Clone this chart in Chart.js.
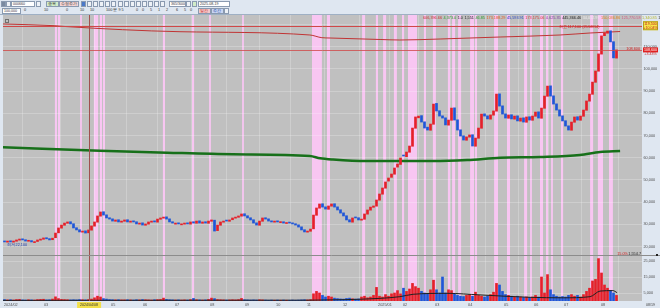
<!DOCTYPE html>
<html>
<head>
<meta charset="utf-8">
<script src="https://cdn.jsdelivr.net/npm/chart.js@4.4.1/dist/chart.umd.min.js"></script>
<style>
html, body { margin: 0; padding: 0; width: 660px; height: 308px; overflow: hidden; background: #dfe7f1; font-family: "Liberation Sans", Arial, sans-serif; }
#bar { position: absolute; left: 0; top: 0; width: 660px; height: 15px; background: #dfe7f1; border-bottom: 1px solid #9fb0c4; box-sizing: border-box; }
.b { position: absolute; height: 4px; background: #fff; border: 1px solid #8a9ab0; font-size: 3.6px; line-height: 4px; color: #333; white-space: nowrap; overflow: hidden; padding: 0 1px; }
.t { position: absolute; font-size: 3.8px; line-height: 5px; color: #333; white-space: nowrap; }
.i { position: absolute; width: 3px; height: 4px; border: 1px solid #8a9ab0; background: #eef2f7; }
#wrap { position: absolute; left: 0; top: 15px; width: 660px; height: 293px; }
</style>
</head>
<body>
<div id="bar">
    <div class="i" style="left:1px;top:1px;background:#7a8aa0"></div>
    <div class="i" style="left:6px;top:1px"></div>
    <div class="b" style="left:11px;top:1px;width:20px">000660</div>
    <div class="i" style="left:36px;top:1px"></div>
    <div class="b" style="left:46px;top:1px;width:9px;background:#d2ecc8">종목</div>
    <div class="b" style="left:59px;top:1px;width:16px;background:#f4d4d4">수정주가</div>
    <div class="i" style="left:81px;top:1px;background:#4a78c8"></div>
    <div class="i" style="left:87px;top:1px"></div>
    <div class="i" style="left:93px;top:1px"></div>
    <div class="i" style="left:99px;top:1px"></div>
    <div class="i" style="left:105px;top:1px"></div>
    <div class="i" style="left:111px;top:1px"></div>
    <div class="i" style="left:118px;top:1px"></div>
    <div class="i" style="left:124px;top:1px"></div>
    <div class="i" style="left:130px;top:1px"></div>
    <div class="i" style="left:136px;top:1px"></div>
    <div class="i" style="left:142px;top:1px"></div>
    <div class="i" style="left:148px;top:1px"></div>
    <div class="i" style="left:154px;top:1px"></div>
    <div class="i" style="left:160px;top:1px"></div>
    <div class="b" style="left:169px;top:1px;width:13px">365/3000</div>
    <div class="i" style="left:186px;top:1px"></div>
    <div class="i" style="left:192px;top:1px;background:#d2ecc8"></div>
    <div class="b" style="left:198px;top:1px;width:28px">2025-08-19</div>
    <div class="b" style="left:2px;top:8px;width:15px">100,000</div>
    <div class="t" style="left:24px;top:8px">0</div>
    <div class="t" style="left:44px;top:8px">10</div>
    <div class="t" style="left:66px;top:8px">0</div>
    <div class="t" style="left:80px;top:8px">10</div>
    <div class="t" style="left:90px;top:8px">10</div>
    <div class="t" style="left:106px;top:8px">100 분 9 5</div>
    <div class="t" style="left:136px;top:8px">0</div>
    <div class="t" style="left:142px;top:8px">0</div>
    <div class="t" style="left:150px;top:8px">5</div>
    <div class="t" style="left:158px;top:8px">1</div>
    <div class="t" style="left:166px;top:8px">2</div>
    <div class="t" style="left:176px;top:8px">6</div>
    <div class="t" style="left:184px;top:8px">5</div>
    <div class="t" style="left:190px;top:8px">0</div>
    <div class="b" style="left:198px;top:8px;width:9px;background:#f4c8c8;color:#c02020">일간</div>
    <div class="b" style="left:211px;top:8px;width:9px;background:#c8d6f2;color:#2040a0">주간</div>
    <div class="i" style="left:224px;top:8px"></div>
</div>
<div id="wrap"><canvas id="grafico"></canvas></div>
<script>
// candles: one bar = two trading days, index 0 = early Feb 2024
var opens = [
    22500, 22000, 22600, 22000, 22400, 22900, 23500, 23100, 22400, 22700,
    21800, 22300, 22900, 23300, 24000, 23600, 23100, 24000, 26200, 28300,
    29600, 30500, 31200, 30300, 28500, 27600, 26500, 27100, 26200, 27400,
    29200, 31000, 33700, 35700, 34300, 33000, 32500, 31400, 32100, 31000,
    31400, 32100, 31000, 31600, 31200, 30100, 30700, 29600, 30100, 31000,
    31600, 31000, 32300, 32800, 33400, 32500, 31200, 30100, 30700, 29800,
    30100, 30700, 30100, 31200, 30500, 31600, 30500, 31200, 30500, 31400,
    31900, 27200, 29600, 31000, 31900, 31400, 32100, 32800, 33200, 33700,
    34800, 33900, 33000, 32100, 30700, 29600, 31400, 33000, 32500, 31600,
    31000, 31600, 30800, 31200, 30400, 30800, 30700, 30300, 29800, 28900,
    27600, 26500, 26900, 28000, 34100, 37300, 39300, 37900, 36800, 38200,
    39300, 37900, 36600, 35200, 33900, 32100, 31000, 33300, 33000, 31900,
    32300, 34600, 36400, 37700, 38200, 40900, 43600, 46300, 49500, 51200,
    52600, 55800, 57000, 61200, 60500, 62500, 65200, 73300, 78000, 79000,
    76200, 73800, 72400, 75100, 84500, 81200, 78900, 78000, 74700, 76900,
    82500, 77100, 72600, 69900, 67900, 69300, 70400, 65200, 68800, 73300,
    79800, 78900, 77400, 79200, 81000, 88800, 83400, 79800, 77800, 79400,
    77400, 78900, 76500, 78000, 76000, 78500, 76900, 78700, 80700, 77800,
    82300, 87700, 92400, 87900, 84300, 81600, 78900, 76700, 74400, 72400,
    76000, 78500, 76900, 78700, 81400, 85500, 88600, 94000, 99000, 106700,
    115000, 116100, 117200, 112300, 104900
];
var closes = [
    22100, 22500, 22100, 22500, 23000, 23400, 23000, 22500, 22600, 22100,
    22200, 23000, 23400, 23900, 23500, 23000, 23800, 26100, 28400, 29700,
    30600, 31100, 30200, 28400, 27500, 26600, 27000, 26100, 27500, 29300,
    31100, 33800, 35600, 34200, 32900, 32400, 31500, 32000, 31100, 31500,
    32000, 31100, 31500, 31100, 30200, 30600, 29700, 30200, 31100, 31500,
    31100, 32400, 32900, 33300, 32400, 31100, 30600, 30600, 30200, 30200,
    30600, 30200, 31100, 30600, 31500, 30600, 31100, 30600, 31500, 32000,
    27000, 29700, 31100, 31500, 31500, 32000, 32900, 33300, 33800, 34700,
    33800, 32900, 32000, 30600, 29700, 31500, 32900, 32400, 31500, 31100,
    31500, 31100, 31100, 30600, 30600, 30600, 30200, 29700, 28800, 27500,
    26600, 27000, 27900, 34200, 37400, 39200, 37800, 36900, 38300, 39200,
    37800, 36500, 35100, 33800, 32000, 31100, 32900, 32900, 32000, 32400,
    34700, 36500, 37800, 38300, 41000, 43700, 46400, 49100, 50900, 52700,
    55400, 57200, 59900, 60800, 62600, 65300, 73400, 78400, 78800, 76100,
    73400, 72500, 75200, 84200, 81100, 78800, 77900, 74800, 77000, 82400,
    77000, 72500, 69800, 68000, 69400, 70300, 65300, 68900, 73400, 79700,
    78800, 77500, 79300, 81100, 88700, 83300, 79700, 77900, 79300, 77500,
    78800, 76600, 77900, 76100, 78400, 77000, 78800, 80600, 77900, 82400,
    87800, 92300, 87800, 84200, 81500, 78800, 76600, 74300, 72500, 76100,
    78400, 77000, 78800, 81500, 85600, 88700, 94100, 99100, 106800, 114900,
    116200, 117100, 112200, 105000, 108600
];
var volumes = [
    900, 700, 800, 600, 900, 1000, 700, 600, 800, 700,
    600, 900, 1000, 1100, 700, 800, 1200, 2600, 1500, 1000,
    900, 800, 700, 800, 700, 900, 800, 700, 900, 1200,
    2000, 3000, 2500, 1500, 1200, 900, 800, 700, 800, 700,
    700, 800, 700, 600, 800, 700, 900, 800, 700, 600,
    800, 900, 1000, 1800, 1000, 800, 700, 600, 700, 600,
    700, 600, 900, 1600, 800, 700, 600, 700, 1000, 1800,
    1500, 900, 800, 700, 600, 700, 800, 700, 900, 1600,
    800, 700, 600, 700, 600, 800, 700, 600, 500, 600,
    500, 600, 500, 600, 500, 500, 600, 500, 600, 700,
    800, 700, 900, 4500, 6000, 5000, 3500, 2500, 3000, 2500,
    1800, 1500, 1300, 1200, 1600, 1800, 1400, 1200, 1300, 2500,
    3000, 2000, 2500, 3500, 8500, 3000, 2500, 4000, 3000, 4500,
    5000, 6500, 4500, 8000, 6000, 7500, 11000, 9000, 8000, 6000,
    5000, 4500, 7000, 13000, 7000, 5000, 15000, 5000, 7000, 6500,
    4500, 3500, 3000, 2800, 3500, 4000, 3000, 5500, 3500, 3000,
    2500, 3000, 4000, 5500, 11000, 10000, 6000, 4000, 3500, 3000,
    2500, 3000, 2500, 2200, 2500, 2200, 2500, 3500, 2500, 15000,
    5000, 16500, 7000, 4000, 3000, 2500, 2800, 2500, 3500, 4000,
    3000, 3500, 2500, 4000, 6000, 8000, 12500, 13500, 26500, 17500,
    10000, 8000, 6500, 5000, 3500
];

// moving average style lines, read at a few points
var green_x = [-0.5, 31.8, 54.2, 76.2, 101.8, 105.2, 109.5, 120.8, 142.8, 154.2, 165.2, 178.5, 191.8, 198.5, 205.2];
var green_y = [64730, 63200, 62300, 61580, 60800, 59800, 59240, 58560, 58560, 59000, 60000, 60360, 61260, 62600, 63060];
var long_x = [-0.5, 16.8, 20.2, 58.5, 101.8, 105.8, 108.5, 125.2, 131.8, 145.2, 165.2, 185.2, 195.2, 205.2];
var long_y = [120270, 119500, 119140, 116800, 115320, 114100, 113960, 113290, 113060, 113510, 114410, 115320, 116220, 116890];
var vol_ma_x = [-0.5, 101.8, 108.5, 118.5, 131.8, 136.2, 147.5, 158.5, 175.2, 186.2, 195.2, 198.5, 202.8, 204.2];
var vol_ma_y = [400, 500, 700, 1100, 2700, 4200, 4800, 3800, 2300, 2000, 2700, 6200, 6500, 5200];

// highlighted days (pink columns), in bar index units
var bands = [
    [16.8, 17.5], [17.8, 18.5], [25.2, 25.8], [29.8, 31.2], [31.8, 32.5], [32.8, 33.5],
    [52.8, 53.5], [62.5, 63.2], [68.2, 68.8], [79.2, 79.8], [102.5, 105.8], [107.5, 108.5],
    [119.2, 120.2], [123.8, 124.5], [126.2, 127.2], [129.8, 130.8], [132.5, 133.2], [134.5, 137.5],
    [139.8, 140.5], [142.8, 143.8], [147.8, 148.5], [149.2, 150.2], [151.2, 152.2], [155.2, 156.5],
    [156.8, 157.5], [163.2, 164.5], [167.5, 168.5], [173.2, 174.2], [175.2, 175.8], [178.5, 179.5],
    [180.5, 181.2], [182.2, 182.8], [185.5, 186.2], [195.2, 196.2], [197.8, 199.5], [201.5, 202.8]
];

var month_ticks = [-0.5, 12.8, 24.5, 35.2, 45.8, 56.5, 68.2, 79.8, 90.2, 100.5, 112.5, 124.2, 132.5, 143.2, 154.2, 166.2, 176.2, 186.2, 198.5];
var month_labels = ['2024/02', '03', '04', '05', '06', '07', '08', '09', '10', '11', '12', '2025/01', '02', '03', '04', '05', '06', '07', '08'];
var price_ticks = [20000, 30000, 40000, 50000, 60000, 70000, 80000, 90000, 100000, 110000, 120000];
var volume_ticks = [5000, 10000, 15000, 20000, 25000];

var top_line = 119500;
var cross_index = 28.2;
var cross_label = '2024/04/08';

var legend_items = [
    ['606,396.66', '#c83030'], ['4,373.0', '#2a9a2a'], ['1.0', '#202020'], ['1,551', '#202020'],
    ['46.85', '#2a9a2a'], ['173,188.29', '#e05a20'], ['45,593.91', '#2040c0'], ['173,175.06', '#d03a3a'],
    ['4,625.35', '#8040a0'], ['445,366.46', '#202020'], ['34,012.97', '#ececec'], ['150,036.86', '#e08020'],
    ['125,770.58', '#d05a80'], ['1,340.85', '#b8b830'], ['1.0 0.7 2.3', '#303030'], ['+0.8%', '#d02020']
];

var UP = '#e5202a';
var DOWN = '#1f56d8';
var TICK_FONT = {family: '"Liberation Sans", Arial, sans-serif', size: 3.8};

var fmt = function (n) {
    return Math.round(n).toLocaleString('en-US');
}

var to_points = function (xs, ys) {
    return xs.map(function (x, i) { return {x: x, y: ys[i]}; });
}

var candle_colors = closes.map(function (c, i) { return c >= opens[i] ? UP : DOWN; });

var hts_plugin = {
    id: 'hts',
    beforeDraw: function (chart) {
        var ctx = chart.ctx, a = chart.chartArea, x = chart.scales.x;
        ctx.save();
        ctx.fillStyle = '#c0c0c0';
        ctx.fillRect(a.left, a.top, a.right - a.left, a.bottom - a.top);
        ctx.fillStyle = '#f8c6f2';
        bands.forEach(function (b) {
            var x0 = x.getPixelForValue(b[0]);
            var x1 = x.getPixelForValue(b[1]);
            ctx.fillRect(x0, a.top, Math.max(1, x1 - x0), a.bottom - a.top);
        });
        ctx.restore();
    },
    afterDatasetsDraw: function (chart) {
        var ctx = chart.ctx, a = chart.chartArea, x = chart.scales.x, y = chart.scales.y;
        var last = closes[closes.length - 1];
        var max = Math.max.apply(null, closes);
        var min = Math.min.apply(null, closes);
        var i_max = closes.indexOf(max);
        var i_min = closes.indexOf(min);
        ctx.save();
        ctx.lineWidth = 1;

        // reference and last price lines
        ctx.strokeStyle = '#d04848';
        var yt = Math.round(y.getPixelForValue(top_line)) + 0.5;
        ctx.beginPath(); ctx.moveTo(a.left, yt); ctx.lineTo(a.right, yt); ctx.stroke();
        var yl = Math.round(y.getPixelForValue(last)) + 0.5;
        ctx.strokeStyle = 'rgba(208,72,72,0.8)';
        ctx.beginPath(); ctx.moveTo(a.left, yl); ctx.lineTo(a.right, yl); ctx.stroke();

        // crosshair
        var xc = Math.round(x.getPixelForValue(cross_index)) + 0.5;
        ctx.strokeStyle = '#a05050';
        ctx.beginPath(); ctx.moveTo(xc, a.top); ctx.lineTo(xc, a.bottom); ctx.stroke();

        // panel separator
        ctx.strokeStyle = '#8c8c8c';
        ctx.beginPath(); ctx.moveTo(a.left, y.bottom + 0.5); ctx.lineTo(chart.width, y.bottom + 0.5); ctx.stroke();

        ctx.font = '3.8px "Liberation Sans", Arial, sans-serif';
        ctx.textBaseline = 'middle';

        // top legend
        var lx = 423;
        legend_items.forEach(function (it) {
            ctx.fillStyle = it[1];
            ctx.fillText(it[0], lx, a.top + 2.5);
            lx += ctx.measureText(it[0]).width + 1.5;
        });

        ctx.strokeStyle = '#707070';
        ctx.strokeRect(5.5, a.top + 4.5, 3, 3);

        ctx.fillStyle = '#d02020';
        ctx.textAlign = 'right';
        ctx.fillText('최고 ' + fmt(max) + ' (25/08/14)', x.getPixelForValue(i_max) - 8, y.getPixelForValue(max) - 4);
        ctx.fillText(fmt(last), a.right - 2, yl - 2);
        ctx.textAlign = 'left';
        ctx.fillStyle = '#2040b0';
        ctx.fillText('최저 ' + fmt(min), x.getPixelForValue(i_min) + 2, y.getPixelForValue(min) + 3);

        ctx.textAlign = 'right';
        ctx.fillStyle = '#d02020';
        ctx.fillText('15.0%', a.right - 14, y.bottom - 1.5);
        ctx.fillStyle = '#202020';
        ctx.fillText('1,554.7', a.right - 1, y.bottom - 1.5);
        ctx.restore();
    },
    afterDraw: function (chart) {
        var ctx = chart.ctx, a = chart.chartArea, x = chart.scales.x, y = chart.scales.y;
        var last = closes[closes.length - 1];
        var ax = a.right + 1, aw = chart.width - a.right - 3;
        ctx.save();
        ctx.font = '3.6px "Liberation Sans", Arial, sans-serif';
        ctx.textBaseline = 'middle';
        ctx.textAlign = 'center';

        // yellow box on the reference line
        var yt = y.getPixelForValue(top_line);
        ctx.fillStyle = '#f6e64a';
        ctx.fillRect(ax, yt - 4.5, aw, 9);
        ctx.strokeStyle = '#b4a020';
        ctx.strokeRect(ax + 0.5, yt - 4, aw - 1, 8);
        ctx.fillStyle = '#c02020';
        ctx.fillText(fmt(top_line), ax + aw / 2, yt - 1.8);
        ctx.fillText('+10.04%', ax + aw / 2, yt + 2);

        // last price tag
        var yl = y.getPixelForValue(last);
        ctx.fillStyle = '#e02020';
        ctx.fillRect(ax, yl - 2.5, aw, 5);
        ctx.fillStyle = '#ffffff';
        ctx.fillText(fmt(last), ax + aw / 2, yl);
        ctx.fillStyle = '#d02020';
        ctx.fillText('+3.43%', ax + aw / 2, yl + 4.5);

        ctx.fillStyle = '#202020';
        ctx.fillRect(chart.width - 4, y.bottom - 1, 2, 2);

        // crosshair date label
        var xc = x.getPixelForValue(cross_index);
        ctx.fillStyle = '#f2e04a';
        ctx.fillRect(xc - 12, a.bottom + 1, 24, 6);
        ctx.fillStyle = '#303030';
        ctx.fillText(cross_label, xc, a.bottom + 4);

        ctx.fillStyle = '#404040';
        ctx.fillText('08/19', ax + aw / 2, a.bottom + 4);
        ctx.restore();
    }
};

var right_axis = function (scale) {
    scale.width = 18;
    scale.paddingTop = 0;
    scale.paddingBottom = 0;
}

chart = new Chart(document.getElementById('grafico'), {
    type: 'bar',
    data: {
        datasets: [
            {
                label: 'candles',
                data: closes.map(function (c, i) { return {x: i, y: [opens[i], c]}; }),
                backgroundColor: candle_colors,
                barThickness: 2,
                minBarLength: 1,
                grouped: false,
                yAxisID: 'y',
                order: 0
            },
            {
                label: 'volume',
                data: volumes.map(function (v, i) { return {x: i, y: v}; }),
                backgroundColor: candle_colors,
                barThickness: 2,
                grouped: false,
                yAxisID: 'v',
                order: 1
            },
            {
                type: 'line',
                label: 'trend',
                data: to_points(green_x, green_y),
                borderColor: '#17701a',
                borderWidth: 2.5,
                pointRadius: 0,
                cubicInterpolationMode: 'monotone',
                yAxisID: 'y',
                order: 2
            },
            {
                type: 'line',
                label: 'long',
                data: to_points(long_x, long_y),
                borderColor: '#c03434',
                borderWidth: 1,
                pointRadius: 0,
                cubicInterpolationMode: 'monotone',
                yAxisID: 'y',
                order: 2
            },
            {
                type: 'line',
                label: 'volume ma',
                data: to_points(vol_ma_x, vol_ma_y),
                borderColor: '#202020',
                borderWidth: 1,
                pointRadius: 0,
                cubicInterpolationMode: 'monotone',
                yAxisID: 'v',
                order: 0
            }
        ]
    },
    options: {
        responsive: true,
        maintainAspectRatio: false,
        animation: false,
        devicePixelRatio: 1,
        layout: { padding: { left: 3, top: 0, right: 0, bottom: 0 } },
        plugins: {
            legend: { display: false },
            tooltip: { enabled: false }
        },
        scales: {
            x: {
                type: 'linear',
                min: -0.5,
                max: 212.5,
                offset: false,
                border: { display: false },
                grid: { color: 'rgba(255,255,255,0.22)', drawTicks: false },
                afterBuildTicks: function (scale) {
                    scale.ticks = month_ticks.map(function (v) { return {value: v}; });
                },
                afterFit: function (scale) {
                    scale.height = 7;
                    scale.paddingLeft = 0;
                    scale.paddingRight = 0;
                },
                ticks: {
                    autoSkip: false,
                    maxRotation: 0,
                    align: 'start',
                    padding: 1.5,
                    labelOffset: 1,
                    color: '#505050',
                    font: TICK_FONT,
                    callback: function (value, index) { return month_labels[index]; }
                }
            },
            y: {
                axis: 'y',
                position: 'right',
                stack: 'right',
                stackWeight: 240,
                bounds: 'data',
                min: 16216,
                max: 124324,
                border: { display: false },
                grid: { color: 'rgba(255,255,255,0.22)', drawTicks: false },
                afterBuildTicks: function (scale) {
                    scale.ticks = price_ticks.map(function (v) { return {value: v}; });
                },
                afterFit: right_axis,
                ticks: {
                    padding: 1.5,
                    color: '#505050',
                    font: TICK_FONT,
                    callback: function (value) { return fmt(value); }
                }
            },
            v: {
                axis: 'y',
                position: 'right',
                stack: 'right',
                stackWeight: 46,
                bounds: 'data',
                min: 0,
                max: 28750,
                border: { display: false },
                grid: { color: 'rgba(255,255,255,0.22)', drawTicks: false },
                afterBuildTicks: function (scale) {
                    scale.ticks = volume_ticks.map(function (v) { return {value: v}; });
                },
                afterFit: right_axis,
                ticks: {
                    padding: 1.5,
                    color: '#505050',
                    font: TICK_FONT,
                    callback: function (value) { return fmt(value); }
                }
            }
        }
    },
    plugins: [hts_plugin]
});
</script>
</body>
</html>
